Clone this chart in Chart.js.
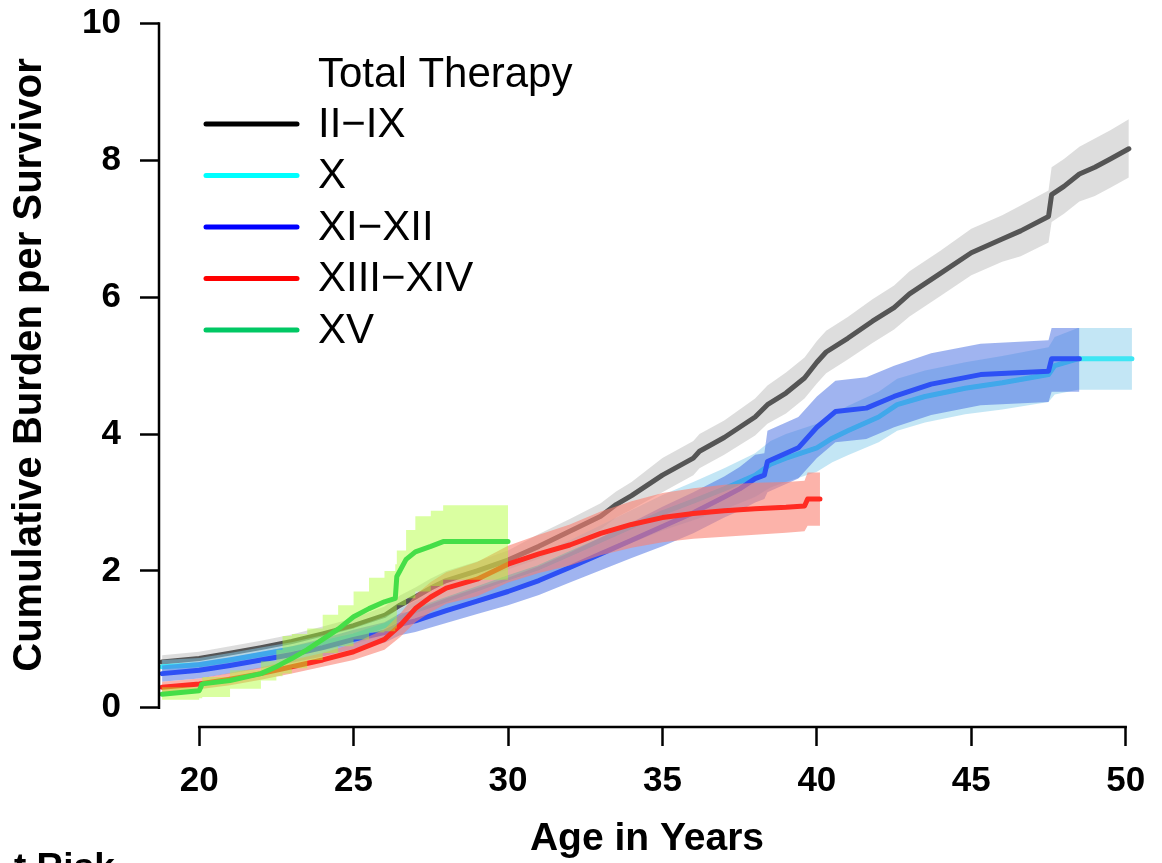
<!DOCTYPE html>
<html>
<head>
<meta charset="utf-8">
<title>Cumulative Burden per Survivor</title>
<script src="https://cdn.jsdelivr.net/npm/chart.js@4.4.1/dist/chart.umd.min.js"></script>
<style>
  body { margin: 0; background: #fff; }
  canvas { display: block; }
</style>
</head>
<body>
<canvas id="myChart" width="1162" height="863"></canvas>
<script>
// tick labels
const xTicks = [20, 25, 30, 35, 40, 45, 50];
const yTicks = [0, 2, 4, 6, 8, 10];

const seriesNames = ["II\u2212IX", "X", "XI\u2212XII", "XIII\u2212XIV", "XV"];

// II-IX
const ageIIIX = [18.8, 20, 21, 22, 23, 24, 25, 26, 26.5, 27, 27.5, 28, 29, 30, 31, 32, 33, 33.5, 34, 35,
  36, 36.2, 37, 38, 38.4, 39, 39.6, 40, 40.3, 41, 41.8, 42.5, 43, 44, 45, 46, 46.6, 47.5, 47.6, 48,
  48.5, 49, 49.5, 50.1];
const estIIIX = [0.67, 0.72, 0.8, 0.88, 0.97, 1.08, 1.2, 1.35, 1.5, 1.62, 1.75, 1.86, 2.0, 2.16, 2.36, 2.58, 2.8, 2.97, 3.1, 3.4,
  3.65, 3.75, 3.95, 4.25, 4.43, 4.6, 4.82, 5.05, 5.2, 5.4, 5.65, 5.85, 6.05, 6.35, 6.65, 6.85, 6.97, 7.18, 7.5, 7.62,
  7.8, 7.9, 8.02, 8.17];
const loIIIX = [0.57, 0.62, 0.7, 0.78, 0.87, 0.97, 1.09, 1.22, 1.36, 1.48, 1.61, 1.72, 1.86, 2.02, 2.18, 2.4, 2.61, 2.78, 2.9, 3.15,
  3.4, 3.5, 3.7, 3.98, 4.15, 4.3, 4.52, 4.74, 4.89, 5.09, 5.33, 5.53, 5.72, 6.02, 6.32, 6.52, 6.6, 6.8, 7.1, 7.22,
  7.4, 7.48, 7.6, 7.75];
const hiIIIX = [0.77, 0.82, 0.9, 0.98, 1.07, 1.19, 1.31, 1.48, 1.64, 1.76, 1.89, 2.0, 2.14, 2.3, 2.54, 2.76, 2.99, 3.16, 3.3, 3.65,
  3.9, 4.0, 4.2, 4.52, 4.71, 4.9, 5.12, 5.36, 5.51, 5.71, 5.97, 6.17, 6.38, 6.68, 7.0, 7.2, 7.34, 7.56, 7.9, 8.02,
  8.2, 8.32, 8.44, 8.6];

// X
const ageX = [18.8, 20, 21, 22, 23, 24, 25, 26, 27, 28, 29, 30, 31, 32, 33, 34, 35, 36, 37, 38,
  38.5, 39, 40, 40.5, 41, 42, 42.6, 43.5, 44.8, 46, 47.5, 47.7, 48.45, 50.2];
const estX = [0.6, 0.63, 0.7, 0.78, 0.86, 0.95, 1.05, 1.2, 1.42, 1.58, 1.74, 1.9, 2.05, 2.25, 2.45, 2.65, 2.85, 3.02, 3.2, 3.4,
  3.56, 3.65, 3.8, 3.94, 4.05, 4.25, 4.43, 4.55, 4.67, 4.75, 4.87, 5.0, 5.1, 5.1];
const loX = [0.5, 0.53, 0.6, 0.68, 0.76, 0.84, 0.93, 1.07, 1.28, 1.43, 1.58, 1.72, 1.86, 2.05, 2.23, 2.41, 2.59, 2.74, 2.9, 3.08,
  3.22, 3.3, 3.45, 3.59, 3.69, 3.88, 4.05, 4.17, 4.29, 4.36, 4.47, 4.58, 4.65, 4.65];
const hiX = [0.7, 0.73, 0.8, 0.88, 0.96, 1.06, 1.17, 1.33, 1.56, 1.73, 1.9, 2.08, 2.24, 2.45, 2.67, 2.89, 3.11, 3.3, 3.5, 3.72,
  3.9, 4.0, 4.15, 4.29, 4.41, 4.62, 4.81, 4.93, 5.05, 5.14, 5.27, 5.42, 5.55, 5.55];

// XI-XII
const ageXIXII = [18.8, 20, 21, 22, 23, 24, 25, 26, 26.5, 27, 28, 29, 30, 31, 32, 33, 34, 35, 36, 37,
  37.5, 38, 38.3, 38.4, 39.4, 40, 40.6, 41.6, 42.5, 43.7, 45.3, 47.5, 47.6, 48.5];
const estXIXII = [0.5, 0.55, 0.62, 0.7, 0.78, 0.88, 1.0, 1.1, 1.22, 1.27, 1.42, 1.56, 1.7, 1.86, 2.05, 2.25, 2.45, 2.65, 2.85, 3.08,
  3.2, 3.35, 3.4, 3.6, 3.8, 4.1, 4.33, 4.38, 4.55, 4.73, 4.87, 4.92, 5.1, 5.1];
const loXIXII = [0.38, 0.43, 0.5, 0.58, 0.66, 0.75, 0.86, 0.95, 1.06, 1.11, 1.24, 1.37, 1.5, 1.65, 1.83, 2.01, 2.19, 2.36, 2.55, 2.78,
  2.88, 3.0, 3.05, 3.15, 3.35, 3.65, 3.88, 3.93, 4.1, 4.28, 4.42, 4.47, 4.62, 4.62];
const hiXIXII = [0.62, 0.67, 0.74, 0.82, 0.9, 1.01, 1.14, 1.25, 1.38, 1.43, 1.6, 1.75, 1.9, 2.07, 2.27, 2.49, 2.71, 2.94, 3.15, 3.38,
  3.52, 3.7, 3.72, 4.05, 4.25, 4.55, 4.78, 4.83, 5.0, 5.18, 5.32, 5.37, 5.55, 5.55];

// XIII-XIV
const ageXIIIXIV = [18.8, 20, 21, 22, 23, 24, 25, 26, 26.5, 27, 27.5, 28, 29, 30, 31, 32, 33, 34, 35, 36,
  37, 38, 39, 39.6, 39.7, 40.1];
const estXIIIXIV = [0.3, 0.35, 0.42, 0.5, 0.6, 0.7, 0.82, 1.0, 1.2, 1.45, 1.62, 1.75, 1.88, 2.1, 2.25, 2.38, 2.55, 2.68, 2.78, 2.84,
  2.88, 2.91, 2.93, 2.95, 3.05, 3.05];
const loXIIIXIV = [0.22, 0.27, 0.33, 0.41, 0.5, 0.6, 0.7, 0.85, 1.03, 1.25, 1.4, 1.52, 1.63, 1.83, 1.97, 2.08, 2.23, 2.34, 2.42, 2.47,
  2.5, 2.53, 2.56, 2.58, 2.66, 2.66];
const hiXIIIXIV = [0.38, 0.43, 0.51, 0.59, 0.7, 0.8, 0.94, 1.15, 1.37, 1.65, 1.84, 1.98, 2.13, 2.37, 2.53, 2.68, 2.87, 3.02, 3.14, 3.21,
  3.26, 3.29, 3.3, 3.32, 3.44, 3.44];

// XV
const ageXV = [18.8, 20, 20.1, 21, 22, 22.5, 22.7, 23, 23.5, 24, 24.5, 25, 25.5, 26, 26.35, 26.4, 26.7, 27, 27.5, 27.9, 30];
const estXV = [0.2, 0.25, 0.35, 0.4, 0.5, 0.6, 0.65, 0.72, 0.85, 1.0, 1.15, 1.33, 1.45, 1.55, 1.6, 1.92, 2.17, 2.28, 2.36, 2.43, 2.43];
const loXV = [0.12, 0.14, 0.16, 0.28, 0.4, 0.46, 0.5, 0.58, 0.7, 0.8, 0.9, 1.0, 1.1, 1.12, 1.16, 1.5, 1.6, 1.7, 1.78, 1.87, 1.87];
const hiXV = [0.3, 0.36, 0.45, 0.55, 0.68, 0.85, 1.05, 1.08, 1.16, 1.36, 1.5, 1.7, 1.9, 2.0, 2.1, 2.3, 2.6, 2.8, 2.88, 2.96, 2.96];

const legendColors = ["#000000", "#00ffff", "#0000ff", "#ff0000", "#00c864"];
const lineColors = ["#555555", "#3ee6f4", "#2d50f5", "#ff2b22", "#45de48"];
const bandColors = ["rgba(180,180,180,0.45)", "rgba(135,206,235,0.5)", "rgba(65,105,225,0.5)",
  "rgba(250,128,114,0.6)", "rgba(173,255,47,0.45)"];
// only the XV band keeps its coarse steps; the others have many small steps
const bandStepped = [false, false, false, false, true];

const groups = [
  [ageIIIX, estIIIX, loIIIX, hiIIIX],
  [ageX, estX, loX, hiX],
  [ageXIXII, estXIXII, loXIXII, hiXIXII],
  [ageXIIIXIV, estXIIIXIV, loXIIIXIV, hiXIIIXIV],
  [ageXV, estXV, loXV, hiXV]
];

const FONT = "'Liberation Sans', Arial, Helvetica, sans-serif";

const toPoints = (ages, vals) => ages.map((a, i) => ({ x: a, y: vals[i] }));

// band (upper filled to lower) then line, group by group, first group at the bottom
const datasets = [];
groups.forEach(([ages, est, lo, hi], g) => {
  datasets.push({
    label: seriesNames[g] + " upper",
    data: toPoints(ages, hi),
    stepped: bandStepped[g],
    borderWidth: 0,
    backgroundColor: bandColors[g],
    fill: "+1"
  });
  datasets.push({
    label: seriesNames[g] + " lower",
    data: toPoints(ages, lo),
    stepped: bandStepped[g],
    borderWidth: 0,
    fill: false
  });
  datasets.push({
    label: seriesNames[g],
    data: toPoints(ages, est),
    borderColor: lineColors[g],
    borderWidth: 5,
    borderCapStyle: "round",
    borderJoinStyle: "round",
    fill: false
  });
});
datasets.forEach((d, i) => { d.order = datasets.length - i; d.pointRadius = 0; d.tension = 0; });

const rStyle = {
  id: "rStyle",
  afterDraw(chart) {
    const { ctx, chartArea, scales: { x, y } } = chart;
    ctx.save();
    // axis lines only between first and last tick
    ctx.strokeStyle = "#000";
    ctx.lineWidth = 2.5;
    ctx.beginPath();
    ctx.moveTo(chartArea.left, y.getPixelForValue(yTicks[0]) + 1.2);
    ctx.lineTo(chartArea.left, y.getPixelForValue(yTicks[yTicks.length - 1]) - 1.2);
    ctx.moveTo(x.getPixelForValue(xTicks[0]) - 1.2, chartArea.bottom);
    ctx.lineTo(x.getPixelForValue(xTicks[xTicks.length - 1]) + 1.2, chartArea.bottom);
    ctx.stroke();

    // legend
    ctx.fillStyle = "#000";
    ctx.font = "42px " + FONT;
    ctx.textAlign = "left";
    ctx.textBaseline = "middle";
    ctx.fillText("Total Therapy", 318, 75);
    ctx.lineWidth = 5;
    ctx.lineCap = "round";
    seriesNames.forEach((name, i) => {
      const ly = 124 + i * 51.5;
      ctx.strokeStyle = legendColors[i];
      ctx.beginPath();
      ctx.moveTo(206, ly);
      ctx.lineTo(297, ly);
      ctx.stroke();
      ctx.fillText(name, 318, ly + 1);
    });

    // cut-off heading of the table below (only its top is in the frame)
    ctx.font = "bold 37px " + FONT;
    ctx.textAlign = "left";
    ctx.textBaseline = "alphabetic";
    ctx.fillText("t Risk", 14, 879);
    ctx.restore();
  }
};

new Chart(document.getElementById("myChart"), {
  type: "line",
  data: { datasets: datasets },
  options: {
    responsive: false,
    animation: false,
    devicePixelRatio: 1,
    events: [],
    layout: { padding: { top: 3, right: 27, left: 0, bottom: 0 } },
    plugins: {
      legend: { display: false },
      tooltip: { enabled: false },
      filler: { propagate: false, drawTime: "beforeDatasetDraw" }
    },
    scales: {
      x: {
        type: "linear",
        min: 18.7,
        max: 50.3,
        afterBuildTicks: (s) => { s.ticks = xTicks.map((v) => ({ value: v })); },
        afterFit: (s) => { s.height = 136; s.paddingLeft = 0; s.paddingRight = 0; },
        border: { display: false },
        grid: { drawOnChartArea: false, drawTicks: true, tickLength: 19, tickWidth: 2.5, tickColor: "#000" },
        ticks: { color: "#000", padding: 14, maxRotation: 0, font: { family: FONT, size: 35, weight: "bold" } },
        title: {
          display: true,
          text: "Age in Years",
          color: "#000",
          padding: { top: 0, bottom: 0 },
          font: { family: FONT, size: 39, weight: "bold" }
        }
      },
      y: {
        min: -0.28,
        max: 10.3,
        afterBuildTicks: (s) => { s.ticks = yTicks.map((v) => ({ value: v })); },
        afterFit: (s) => { s.width = 159; s.paddingTop = 0; s.paddingBottom = 0; },
        border: { display: false },
        grid: { drawOnChartArea: false, drawTicks: true, tickLength: 19, tickWidth: 2.5, tickColor: "#000" },
        ticks: { color: "#000", padding: 19, font: { family: FONT, size: 35, weight: "bold" } },
        title: {
          display: true,
          text: "Cumulative Burden per Survivor",
          color: "#000",
          padding: { top: 6, bottom: 0 },
          font: { family: FONT, size: 40, weight: "bold" }
        }
      }
    }
  },
  plugins: [rStyle]
});
</script>
</body>
</html>
